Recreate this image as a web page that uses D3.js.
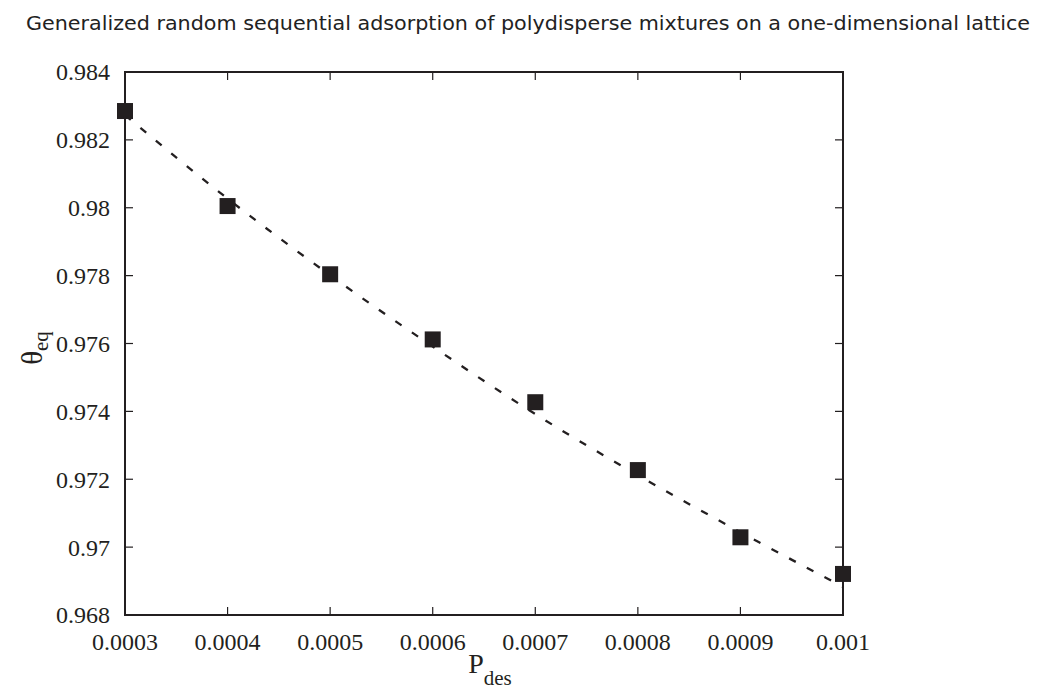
<!DOCTYPE html>
<html>
<head>
<meta charset="utf-8">
<script src="https://cdn.jsdelivr.net/npm/d3@7"></script>
<style>
	body { margin: 0; background: #fff; }
	svg { display: block; }
</style>
</head>
<body>
<div id="chart"></div>
<script>
// measured points
var pdes = [0.0003, 0.0004, 0.0005, 0.0006, 0.0007, 0.0008, 0.0009, 0.001]
var theta = [0.98285, 0.98005, 0.97804, 0.97612, 0.97427, 0.97227, 0.97029, 0.96921]
// dashed fit curve
var fitX = [0.0003, 0.0004, 0.0005, 0.0006, 0.0007, 0.0008, 0.0009, 0.001]
var fitY = [0.98273, 0.98027, 0.97801, 0.97591, 0.97392, 0.97212, 0.97044, 0.96883]

var xTicks = [0.0003, 0.0004, 0.0005, 0.0006, 0.0007, 0.0008, 0.0009, 0.001]
var xLabels = ["0.0003", "0.0004", "0.0005", "0.0006", "0.0007", "0.0008", "0.0009", "0.001"]
var yTicks = [0.968, 0.970, 0.972, 0.974, 0.976, 0.978, 0.980, 0.982, 0.984]
var yLabels = ["0.968", "0.97", "0.972", "0.974", "0.976", "0.978", "0.98", "0.982", "0.984"]

function draw() {
	var W = 1040, H = 689
	var pl = 125, pr = 843, pt = 72, pb = 615
	var ink = "#231f20"
	var serif = "'Liberation Serif', 'Times New Roman', serif"

	var svg = d3.select("#chart").append("svg")
		.attr("width", W)
		.attr("height", H)

	var x = d3.scaleLinear().domain([0.0003, 0.001]).range([pl, pr])
	var y = d3.scaleLinear().domain([0.968, 0.984]).range([pb, pt])

	// title
	svg.append("text")
		.attr("x", 26)
		.attr("y", 30)
		.attr("textLength", 1004)
		.attr("lengthAdjust", "spacingAndGlyphs")
		.style("font-family", "'DejaVu Sans Condensed', 'DejaVu Sans', sans-serif")
		.style("font-size", "20px")
		.style("fill", "#222")
		.text("Generalized random sequential adsorption of polydisperse mixtures on a one-dimensional lattice")

	// ticks, inward on all four sides
	var tk = 8
	var g = svg.append("g").attr("stroke", ink).attr("stroke-width", 1.2)
	xTicks.forEach(function (d) {
		g.append("line").attr("x1", x(d)).attr("x2", x(d)).attr("y1", pb).attr("y2", pb - tk)
		g.append("line").attr("x1", x(d)).attr("x2", x(d)).attr("y1", pt).attr("y2", pt + tk)
	})
	yTicks.forEach(function (d) {
		g.append("line").attr("x1", pl).attr("x2", pl + tk).attr("y1", y(d)).attr("y2", y(d))
		g.append("line").attr("x1", pr).attr("x2", pr - tk).attr("y1", y(d)).attr("y2", y(d))
	})

	// frame
	svg.append("rect")
		.attr("x", pl)
		.attr("y", pt)
		.attr("width", pr - pl)
		.attr("height", pb - pt)
		.attr("fill", "none")
		.attr("stroke", ink)
		.attr("stroke-width", 2)

	// tick labels
	svg.selectAll(".xl").data(xTicks).enter().append("text")
		.attr("class", "xl")
		.attr("x", function (d) { return x(d) })
		.attr("y", 650)
		.style("text-anchor", "middle")
		.style("font-family", serif)
		.style("font-size", "24px")
		.style("fill", ink)
		.text(function (d, i) { return xLabels[i] })

	svg.selectAll(".yl").data(yTicks).enter().append("text")
		.attr("class", "yl")
		.attr("x", 110)
		.attr("y", function (d) { return y(d) })
		.attr("dy", "0.35em")
		.style("text-anchor", "end")
		.style("font-family", serif)
		.style("font-size", "24px")
		.style("fill", ink)
		.text(function (d, i) { return yLabels[i] })

	// axis titles
	var xt = svg.append("text")
		.attr("x", (pl + pr) / 2 + 6)
		.attr("y", 673)
		.style("text-anchor", "middle")
		.style("font-family", serif)
		.style("font-size", "28px")
		.style("fill", ink)
	xt.append("tspan").text("P")
	xt.append("tspan").attr("dy", 12).style("font-size", "21px").text("des")

	var yt = svg.append("text")
		.attr("transform", "translate(42,348) rotate(-90)")
		.style("text-anchor", "middle")
		.style("font-family", serif)
		.style("font-size", "29px")
		.style("fill", ink)
	yt.append("tspan").text("θ")
	yt.append("tspan").attr("dy", 6).style("font-size", "21px").text("eq")

	// fit line
	var line = d3.line()
		.x(function (d, i) { return x(fitX[i]) })
		.y(function (d) { return y(d) })
		.curve(d3.curveMonotoneX)

	svg.append("path")
		.datum(fitY)
		.attr("d", line)
		.attr("fill", "none")
		.attr("stroke", ink)
		.attr("stroke-width", 2.3)
		.attr("stroke-dasharray", "7.5,12.5")

	// markers
	var ms = 16
	svg.selectAll(".pt").data(theta).enter().append("rect")
		.attr("class", "pt")
		.attr("x", function (d, i) { return x(pdes[i]) - ms / 2 })
		.attr("y", function (d) { return y(d) - ms / 2 })
		.attr("width", ms)
		.attr("height", ms)
		.attr("fill", ink)
}
draw()
</script>
</body>
</html>
